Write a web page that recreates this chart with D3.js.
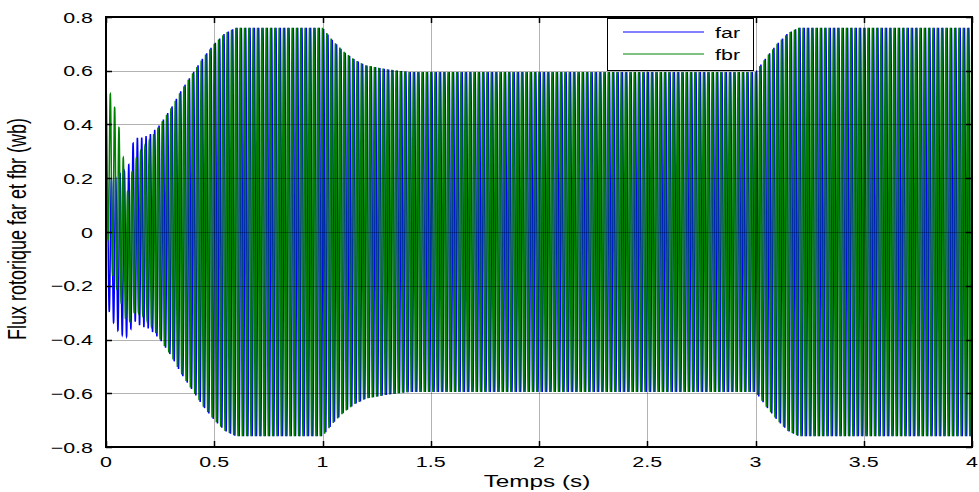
<!DOCTYPE html>
<html>
<head>
<meta charset="utf-8">
<script src="https://cdn.jsdelivr.net/npm/d3@7"></script>
<style>
  html, body { margin: 0; padding: 0; background: #fff; }
  svg { display: block; font-family: "Liberation Sans", Arial, Helvetica, sans-serif; }
</style>
</head>
<body>
<svg id="chart" width="979" height="492"></svg>
<script>
// Simulation output: rotor flux components far / fbr (Wb) over 0–4 s.
// Each component oscillates at the supply frequency; its envelope and DC
// offset are given at the knot times below.
const supplyHz = 50;
const sampleStep = 0.0002;

const knotTime = [0, 0.03, 0.065, 0.1, 0.13, 0.16, 0.2, 0.25, 0.3, 0.35, 0.4, 0.45, 0.5, 0.55, 0.6,
                  1.0, 1.05, 1.1, 1.15, 1.2, 1.3, 1.4, 3.0, 3.05, 3.1, 3.15, 3.2, 4.0];
const farAmplitude = [0.24, 0.26, 0.30, 0.31, 0.34, 0.35, 0.36, 0.40, 0.46, 0.53, 0.59, 0.65, 0.70, 0.74, 0.76,
                      0.76, 0.71, 0.67, 0.64, 0.62, 0.605, 0.595, 0.595, 0.65, 0.70, 0.74, 0.76, 0.76];
const fbrAmplitude = [0.25, 0.33, 0.31, 0.25, 0.28, 0.30, 0.34, 0.40, 0.46, 0.53, 0.59, 0.65, 0.70, 0.74, 0.76,
                      0.76, 0.71, 0.67, 0.64, 0.62, 0.605, 0.595, 0.595, 0.65, 0.70, 0.74, 0.76, 0.76];
const farOffset = [-0.02, -0.07, -0.08, -0.08, 0.01, 0, 0, 0, 0, 0, 0, 0, 0, 0, 0,
                   0, 0, 0, 0, 0, 0, 0, 0, 0, 0, 0, 0, 0];
const fbrOffset = [0.29, 0.17, 0.06, -0.10, -0.02, 0, 0, 0, 0, 0, 0, 0, 0, 0, 0,
                   0, 0, 0, 0, 0, 0, 0, 0, 0, 0, 0, 0, 0];

const xTicks = [0, 0.5, 1, 1.5, 2, 2.5, 3, 3.5, 4];
const yTicks = [-0.8, -0.6, -0.4, -0.2, 0, 0.2, 0.4, 0.6, 0.8];
const seriesNames = ["far", "fbr"];
const seriesColors = ["#0000ff", "#008000"];

const svg = d3.select("#chart");
const plot = { left: 106, right: 972, top: 17, bottom: 447 };
const x = d3.scaleLinear().domain([0, 4]).range([plot.left, plot.right]);
const y = d3.scaleLinear().domain([-0.8, 0.8]).range([plot.bottom, plot.top]);
const stretch = 1.43;

// knot-based envelope lookups
const farAmpAt = d3.scaleLinear().domain(knotTime).range(farAmplitude).clamp(true);
const fbrAmpAt = d3.scaleLinear().domain(knotTime).range(fbrAmplitude).clamp(true);
const farOffAt = d3.scaleLinear().domain(knotTime).range(farOffset).clamp(true);
const fbrOffAt = d3.scaleLinear().domain(knotTime).range(fbrOffset).clamp(true);

const times = d3.range(0, 4 + sampleStep / 2, sampleStep);
const w = 2 * Math.PI * supplyHz;
const far = times.map(t => [t, farOffAt(t) + farAmpAt(t) * Math.sin(w * t)]);
const fbr = times.map(t => [t, fbrOffAt(t) + fbrAmpAt(t) * Math.cos(w * t)]);

// traces
const line = d3.line().x(d => x(d[0])).y(d => y(d[1]));
svg.append("g").selectAll("path").data([far, fbr]).join("path")
  .attr("d", line)
  .attr("fill", "none")
  .attr("stroke", (d, i) => seriesColors[i])
  .attr("stroke-width", 1.5);

// grid, laid over the traces
const grid = svg.append("g").attr("stroke", "rgba(0,0,0,0.3)").attr("stroke-width", 1);
grid.selectAll(".gx").data(xTicks.slice(1, -1)).join("line")
  .attr("x1", d => Math.round(x(d)) + 0.5).attr("x2", d => Math.round(x(d)) + 0.5)
  .attr("y1", plot.top).attr("y2", plot.bottom);
grid.selectAll(".gy").data(yTicks.slice(1, -1)).join("line")
  .attr("y1", d => Math.round(y(d)) + 0.5).attr("y2", d => Math.round(y(d)) + 0.5)
  .attr("x1", plot.left).attr("x2", plot.right);

// axes box with inward ticks on all four sides
const tickLen = 6;
const axes = svg.append("g").attr("stroke", "#000");
axes.append("rect")
  .attr("x", plot.left).attr("y", plot.top)
  .attr("width", plot.right - plot.left).attr("height", plot.bottom - plot.top)
  .attr("fill", "none").attr("stroke-width", 2);
xTicks.forEach(t => {
  const px = Math.round(x(t)) + 0.5;
  axes.append("line").attr("x1", px).attr("x2", px).attr("y1", plot.bottom).attr("y2", plot.bottom - tickLen).attr("stroke-width", 1.5);
  axes.append("line").attr("x1", px).attr("x2", px).attr("y1", plot.top).attr("y2", plot.top + tickLen).attr("stroke-width", 1.5);
});
yTicks.forEach(t => {
  const py = Math.round(y(t)) + 0.5;
  axes.append("line").attr("y1", py).attr("y2", py).attr("x1", plot.left).attr("x2", plot.left + tickLen).attr("stroke-width", 1.5);
  axes.append("line").attr("y1", py).attr("y2", py).attr("x1", plot.right).attr("x2", plot.right - tickLen).attr("stroke-width", 1.5);
});

// tick labels (wide-set glyphs)
const fmt = d => (d === 0 ? "0" : d3.format("")(+d.toFixed(1)));
svg.append("g").selectAll("g").data(yTicks).join("g")
  .attr("transform", d => `translate(93,${y(d) + 5.5}) scale(${stretch},1)`)
  .append("text").attr("text-anchor", "end").attr("font-size", 15).attr("fill", "#000")
  .text(fmt);
svg.append("g").selectAll("g").data(xTicks).join("g")
  .attr("transform", d => `translate(${x(d)},467) scale(${stretch},1)`)
  .append("text").attr("text-anchor", "middle").attr("font-size", 15).attr("fill", "#000")
  .text(fmt);

// axis titles
svg.append("g").attr("transform", `translate(537,487) scale(${stretch},1)`)
  .append("text").attr("text-anchor", "middle").attr("font-size", 17).attr("fill", "#000")
  .text("Temps (s)");
svg.append("g").attr("transform", `translate(26,229) scale(${stretch},1) rotate(-90)`)
  .append("text").attr("text-anchor", "middle").attr("font-size", 18).attr("fill", "#000")
  .text("Flux rotorique far et fbr (wb)");

// legend
const legend = svg.append("g");
legend.append("rect").attr("x", 607.5).attr("y", 18.5).attr("width", 146).attr("height", 52)
  .attr("fill", "#fff").attr("stroke", "#000").attr("stroke-width", 1);
seriesNames.forEach((name, i) => {
  const ly = 32 + i * 22;
  legend.append("line").attr("x1", 623).attr("x2", 704).attr("y1", ly).attr("y2", ly)
    .attr("stroke", seriesColors[i]).attr("stroke-width", 1);
  legend.append("g").attr("transform", `translate(715,${ly + 6}) scale(${stretch},1)`)
    .append("text").attr("font-size", 15).attr("fill", "#000").text(name);
});
</script>
</body>
</html>
